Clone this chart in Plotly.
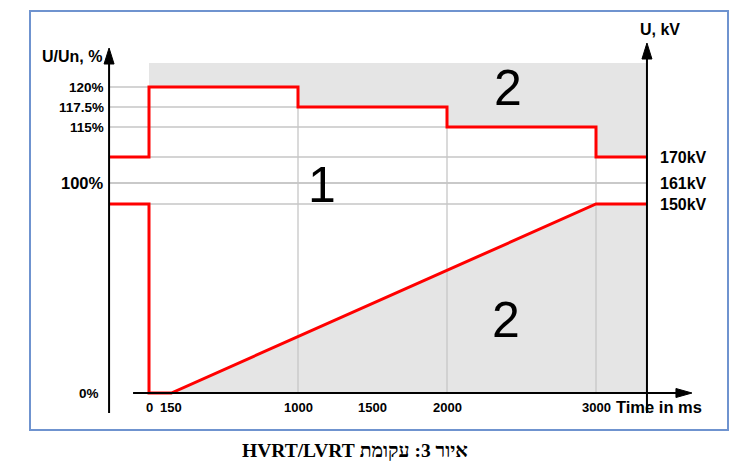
import numpy as np
import plotly.graph_objects as go

UN_KV = 161  # nominal voltage = 100 %

# axis ticks
time_ticks = [0, 150, 1000, 1500, 2000, 3000]
time_grid = [1000, 2000, 3000]
pct_ticks = [0, 100, 115, 117.5, 120]
pct_labels = ["0%", "100%", "115%", "117.5%", "120%"]
kv_ticks = [150, 161, 170]
kv_labels = ["150kV", "161kV", "170kV"]

# HVRT upper limit (step curve), % of Un
hvrt_t = [0, 1000, 2000, 3000]
hvrt_pct = [120, 117.5, 115, 170 / UN_KV * 100]
hv_steady_kv = 170

# LVRT lower limit, kV
lvrt_t = [0, 150, 3000]
lvrt_kv = [0, 0, 150]
lv_steady_kv = 150

# --- drawing helpers -------------------------------------------------------
# page has an 8px body margin, so the figure is 724x459 placed at (8, 8)
W, H, OFF = 724, 459, 8
# 1 px = 1/0.149 ms on x, 1 unit on y; the voltage axis is schematic, so
# every level gets its own height on the drawing
PX = 1 / 0.149
X0_PX = 149 - OFF          # where t = 0 sits
Y0_PX = 393 - OFF          # where 0 % sits
scale_pct = [0, 150 / UN_KV * 100, 100, 170 / UN_KV * 100, 115, 117.5, 120]
scale_pos = [0, 189, 210, 236, 266, 286, 306]


def ypos(pct):
    return np.interp(pct, scale_pct, scale_pos)


def kv2pct(kv):
    return np.asarray(kv, dtype=float) / UN_KV * 100


def paper(px, py):
    return (px - OFF) / W, 1 - (py - OFF) / H


T_LEFT, T_RIGHT = -268, 3342   # the two voltage axes
GRAY_TOP = 330

hv_lvl_pct = kv2pct(hv_steady_kv)
lv_lvl_pct = kv2pct(lv_steady_kv)

fig = go.Figure()

# shaded zone 2 below the LVRT ramp
gx = lvrt_t[1:] + [T_RIGHT, T_RIGHT]
gy = list(ypos(kv2pct(lvrt_kv[1:]))) + [ypos(lv_lvl_pct), 0]
fig.add_trace(go.Scatter(x=gx, y=gy, fill="toself", fillcolor="#e5e5e5",
                         mode="lines", line=dict(width=0), hoverinfo="skip"))

# grid
grid_x, grid_y = [], []
for lvl in list(pct_ticks[1:]) + list(kv2pct(kv_ticks)):
    grid_x += [T_LEFT, T_RIGHT, None]
    grid_y += [ypos(lvl), ypos(lvl), None]
for t in time_grid:
    grid_x += [t, t, None]
    grid_y += [0, ypos(120), None]
fig.add_trace(go.Scatter(x=grid_x, y=grid_y, mode="lines",
                         line=dict(color="#c6c6c6", width=1.3), hoverinfo="skip"))

# shaded zone 2 above the HVRT steps
ux, uy = [], []
levels = list(hvrt_pct) + [hv_lvl_pct]
ends = hvrt_t[1:] + [T_RIGHT]
for t0, t1, lvl in zip(hvrt_t, ends, levels):
    ux += [t0, t1]
    uy += [ypos(lvl), ypos(lvl)]
ux += [T_RIGHT, 0]
uy += [GRAY_TOP, GRAY_TOP]
fig.add_trace(go.Scatter(x=ux, y=uy, fill="toself", fillcolor="#e5e5e5",
                         mode="lines", line=dict(width=0), hoverinfo="skip"))

# HVRT curve
fig.add_trace(go.Scatter(
    x=[T_LEFT] + hvrt_t + [T_RIGHT],
    y=ypos([hv_lvl_pct] + hvrt_pct + [hv_lvl_pct]),
    mode="lines", line=dict(color="#ff0000", width=3, shape="hv"),
    hoverinfo="skip"))

# LVRT curve
fig.add_trace(go.Scatter(
    x=[T_LEFT, lvrt_t[0]] + lvrt_t + [T_RIGHT],
    y=ypos(kv2pct([lv_steady_kv, lv_steady_kv] + lvrt_kv + [lv_steady_kv])),
    mode="lines", line=dict(color="#ff0000", width=3),
    hoverinfo="skip"))

# axes with arrows
ax_line = dict(color="black", width=2)
shapes = [
    dict(type="line", x0=T_LEFT, x1=T_LEFT, y0=-20, y1=335, line=ax_line),
    dict(type="line", x0=T_RIGHT, x1=T_RIGHT, y0=-20, y1=340, line=ax_line),
    dict(type="line", x0=-107, x1=3580, y0=0, y1=0, line=ax_line),
]


def head(t, u, d):
    if d == "up":
        p = [(t, u), (t - 5 * PX, u - 16), (t + 5 * PX, u - 16)]
    else:
        p = [(t, u), (t - 16 * PX, u + 4.5), (t - 16 * PX, u - 4.5)]
    return "M " + " L ".join(f"{a},{b}" for a, b in p) + " Z"


for path in [head(T_LEFT, 345, "up"), head(T_RIGHT, 350, "up"), head(3644, 0, "right")]:
    shapes.append(dict(type="path", path=path, fillcolor="black",
                       line=dict(color="black", width=1)))

# frame
fx0, fy1 = paper(30, 11)
fx1, fy0 = paper(728, 430)
shapes.append(dict(type="rect", xref="paper", yref="paper",
                   x0=fx0, x1=fx1, y0=fy0, y1=fy1,
                   line=dict(color="#6f93cf", width=2)))

ann = []
bold = dict(family="Liberation Sans, Arial", color="black", size=13.5)
for p, lab in zip(pct_ticks, pct_labels):
    f = dict(bold, size=16.5 if p == 100 else 13.5)
    ann.append(dict(x=-322 if p == 0 else -290, y=ypos(p), text=f"<b>{lab}</b>",
                    xanchor="right", yanchor="middle", showarrow=False, font=f))
for kv, lab in zip(kv_ticks, kv_labels):
    ann.append(dict(x=3416, y=ypos(kv2pct(kv)), text=f"<b>{lab}</b>",
                    xanchor="left", yanchor="middle", showarrow=False,
                    font=dict(bold, size=16)))
for t in time_ticks:
    ann.append(dict(x=t, y=-14, text=f"<b>{t}</b>", showarrow=False,
                    xanchor="center", yanchor="middle", font=dict(bold, size=13)))
ann.append(dict(x=3121, y=-14, text="<b>Time in ms</b>", showarrow=False,
                xanchor="left", yanchor="middle", font=dict(bold, size=16.5)))
ann.append(dict(x=-300, y=337, text="<b>U/Un, %</b>", showarrow=False,
                xanchor="right", yanchor="middle", font=dict(bold, size=16)))
ann.append(dict(x=3430, y=364, text="<b>U, kV</b>", showarrow=False,
                xanchor="center", yanchor="middle", font=dict(bold, size=16)))

# zone numbers
big = dict(family="Liberation Sans, Arial", color="black", size=50)
for txt, t, u in [("1", 1161, 208), ("2", 2409, 305), ("2", 2396, 73)]:
    ann.append(dict(x=t, y=u, text=txt, showarrow=False, font=big))

# caption (RTL paragraph)
cx, cy = paper(355, 450)
ann.append(dict(xref="paper", yref="paper", x=cx, y=cy,
                xanchor="center", yanchor="middle",
                text="<b>\u202bאיור 3: עקומת HVRT/LVRT\u202c</b>", showarrow=False,
                font=dict(family="Liberation Serif, Times New Roman, serif",
                          size=19.5, color="black")))

fig.update_layout(
    width=W, height=H,
    margin=dict(l=0, r=0, t=0, b=0),
    paper_bgcolor="white", plot_bgcolor="white",
    showlegend=False,
    xaxis=dict(range=[-X0_PX * PX, (W - X0_PX) * PX], visible=False, fixedrange=True),
    yaxis=dict(range=[Y0_PX - H, Y0_PX], visible=False, fixedrange=True),
    shapes=shapes, annotations=ann,
)

fig.write_html("out.html")
